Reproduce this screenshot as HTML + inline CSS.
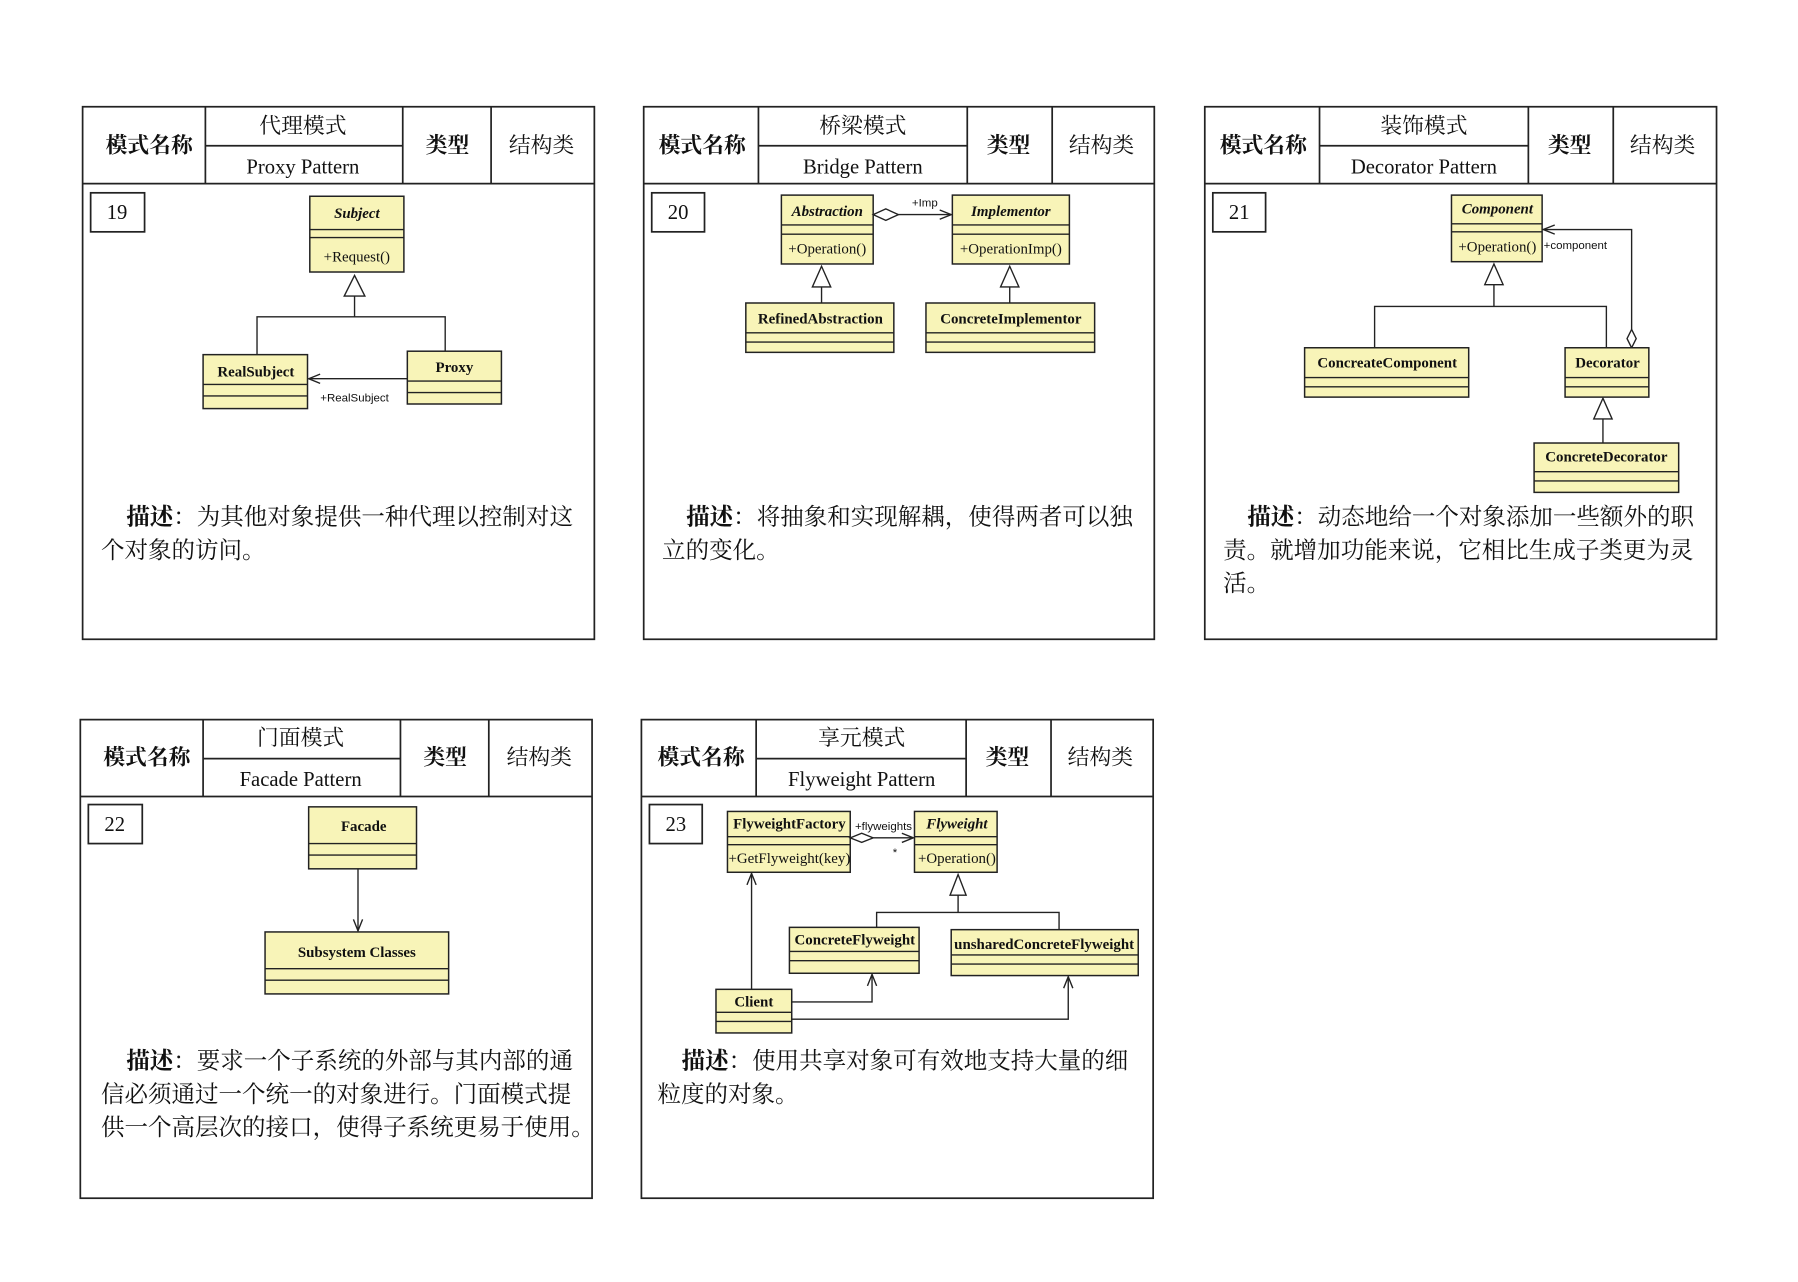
<!DOCTYPE html>
<html><head><meta charset="utf-8"><style>
html,body{margin:0;padding:0;background:#fff;}
svg{display:block;}
.h{font-family:"Liberation Serif","Noto Serif CJK SC",serif;fill:#111;}
.b{font-weight:bold;}
.c{font-family:"Liberation Serif",serif;font-weight:bold;font-size:13px;fill:#111;}
.o{font-family:"Liberation Serif",serif;font-size:13px;fill:#111;}
.s{font-family:"Liberation Sans",sans-serif;font-size:10px;fill:#111;}
.cls{fill:#f8f4b8;stroke:#222;stroke-width:1.3;}
.ln{stroke:#222;stroke-width:1.2;fill:none;}
.pn{fill:none;stroke:#222;stroke-width:1.5;}
.d{font-size:20.5px;}
</style></head><body>
<svg width="1798" height="1282" viewBox="0 0 1567 1117" preserveAspectRatio="none" xmlns="http://www.w3.org/2000/svg">
<defs>
<marker id="ar" markerWidth="12" markerHeight="10" refX="11" refY="5" orient="auto" markerUnits="userSpaceOnUse"><path d="M1,1 L11,5 L1,9" fill="none" stroke="#222" stroke-width="1.2"/></marker>
</defs>

<g id="p1">
<rect class="pn" x="72" y="93" width="446" height="464"/>
<line class="pn" x1="72" y1="160" x2="518" y2="160"/>
<line class="pn" x1="179" y1="93" x2="179" y2="160"/><line class="pn" x1="351" y1="93" x2="351" y2="160"/><line class="pn" x1="428" y1="93" x2="428" y2="160"/>
<line class="pn" x1="179" y1="127" x2="351" y2="127"/>
<text class="h b" x="130" y="133" font-size="19" text-anchor="middle">模式名称</text>
<text class="h" x="264" y="116" font-size="19" text-anchor="middle">代理模式</text>
<text class="h" x="264" y="151" font-size="18" text-anchor="middle">Proxy Pattern</text>
<text class="h b" x="390" y="133" font-size="19" text-anchor="middle">类型</text>
<text class="h" x="472" y="133" font-size="19" text-anchor="middle">结构类</text>
<rect class="pn" x="79" y="168" width="47" height="34" stroke-width="1.2"/>
<text class="h" x="102" y="191" font-size="18" text-anchor="middle">19</text>
<rect class="cls" x="270" y="171" width="82" height="66"/><line class="ln" x1="270" y1="200" x2="352" y2="200"/><line class="ln" x1="270" y1="207" x2="352" y2="207"/>
<text class="c" x="311" y="190" text-anchor="middle" font-style="italic">Subject</text>
<text class="o" x="311" y="228" text-anchor="middle">+Request()</text>
<path class="ln" d="M309,240 L300,258 L318,258 Z" fill="#fff"/>
<path class="ln" d="M309,258 V276 M224,309 V276 H388 V306"/>
<rect class="cls" x="177" y="309" width="91" height="47"/><line class="ln" x1="177" y1="335" x2="268" y2="335"/><line class="ln" x1="177" y1="345" x2="268" y2="345"/>
<text class="c" x="223" y="328" text-anchor="middle">RealSubject</text>
<rect class="cls" x="355" y="306" width="82" height="46"/><line class="ln" x1="355" y1="332" x2="437" y2="332"/><line class="ln" x1="355" y1="342" x2="437" y2="342"/>
<text class="c" x="396" y="324" text-anchor="middle">Proxy</text>
<line class="ln" x1="355" y1="330" x2="269" y2="330" marker-end="url(#ar)"/>
<text class="s" x="309" y="350" text-anchor="middle">+RealSubject</text>
<text class="h d" x="110" y="457"><tspan font-weight="bold">描述</tspan>：为其他对象提供一种代理以控制对这</text>
<text class="h d" x="88" y="486">个对象的访问。</text>
</g>

<g id="p2">
<rect class="pn" x="561" y="93" width="445" height="464"/>
<line class="pn" x1="561" y1="160" x2="1006" y2="160"/>
<line class="pn" x1="661" y1="93" x2="661" y2="160"/><line class="pn" x1="843" y1="93" x2="843" y2="160"/><line class="pn" x1="917" y1="93" x2="917" y2="160"/>
<line class="pn" x1="661" y1="127" x2="843" y2="127"/>
<text class="h b" x="612" y="133" font-size="19" text-anchor="middle">模式名称</text>
<text class="h" x="752" y="116" font-size="19" text-anchor="middle">桥梁模式</text>
<text class="h" x="752" y="151" font-size="18" text-anchor="middle">Bridge Pattern</text>
<text class="h b" x="879" y="133" font-size="19" text-anchor="middle">类型</text>
<text class="h" x="960" y="133" font-size="19" text-anchor="middle">结构类</text>
<rect class="pn" x="568" y="168" width="46" height="34" stroke-width="1.2"/>
<text class="h" x="591" y="191" font-size="18" text-anchor="middle">20</text>
<rect class="cls" x="681" y="170" width="80" height="60"/><line class="ln" x1="681" y1="196" x2="761" y2="196"/><line class="ln" x1="681" y1="204" x2="761" y2="204"/>
<text class="c" x="721" y="188" text-anchor="middle" font-style="italic">Abstraction</text>
<text class="o" x="721" y="221" text-anchor="middle">+Operation()</text>
<rect class="cls" x="830" y="170" width="102" height="60"/><line class="ln" x1="830" y1="196" x2="932" y2="196"/><line class="ln" x1="830" y1="204" x2="932" y2="204"/>
<text class="c" x="881" y="188" text-anchor="middle" font-style="italic">Implementor</text>
<text class="o" x="881" y="221" text-anchor="middle">+OperationImp()</text>
<path class="ln" d="M761,187 L772,182 L783,187 L772,192 Z" fill="#fff"/>
<line class="ln" x1="783" y1="187" x2="829" y2="187" marker-end="url(#ar)"/>
<text class="s" x="806" y="180" text-anchor="middle">+Imp</text>
<path class="ln" d="M716,232 L708,250 L724,250 Z" fill="#fff"/><line class="ln" x1="716" y1="250" x2="716" y2="264"/>
<path class="ln" d="M880,232 L872,250 L888,250 Z" fill="#fff"/><line class="ln" x1="880" y1="250" x2="880" y2="264"/>
<rect class="cls" x="650" y="264" width="129" height="43"/><line class="ln" x1="650" y1="290" x2="779" y2="290"/><line class="ln" x1="650" y1="298" x2="779" y2="298"/>
<text class="c" x="715" y="282" text-anchor="middle">RefinedAbstraction</text>
<rect class="cls" x="807" y="264" width="147" height="43"/><line class="ln" x1="807" y1="290" x2="954" y2="290"/><line class="ln" x1="807" y1="298" x2="954" y2="298"/>
<text class="c" x="881" y="282" text-anchor="middle">ConcreteImplementor</text>
<text class="h d" x="598" y="457"><tspan font-weight="bold">描述</tspan>：将抽象和实现解耦，使得两者可以独</text>
<text class="h d" x="577" y="486">立的变化。</text>
</g>

<g id="p3">
<rect class="pn" x="1050" y="93" width="446" height="464"/>
<line class="pn" x1="1050" y1="160" x2="1496" y2="160"/>
<line class="pn" x1="1150" y1="93" x2="1150" y2="160"/><line class="pn" x1="1332" y1="93" x2="1332" y2="160"/><line class="pn" x1="1406" y1="93" x2="1406" y2="160"/>
<line class="pn" x1="1150" y1="127" x2="1332" y2="127"/>
<text class="h b" x="1101" y="133" font-size="19" text-anchor="middle">模式名称</text>
<text class="h" x="1241" y="116" font-size="19" text-anchor="middle">装饰模式</text>
<text class="h" x="1241" y="151" font-size="18" text-anchor="middle">Decorator Pattern</text>
<text class="h b" x="1368" y="133" font-size="19" text-anchor="middle">类型</text>
<text class="h" x="1449" y="133" font-size="19" text-anchor="middle">结构类</text>
<rect class="pn" x="1057" y="168" width="46" height="34" stroke-width="1.2"/>
<text class="h" x="1080" y="191" font-size="18" text-anchor="middle">21</text>
<rect class="cls" x="1265" y="170" width="79" height="58"/><line class="ln" x1="1265" y1="195" x2="1344" y2="195"/><line class="ln" x1="1265" y1="202" x2="1344" y2="202"/>
<text class="c" x="1305" y="186" text-anchor="middle" font-style="italic" font-size="12">Component</text>
<text class="o" x="1305" y="219" text-anchor="middle" font-size="12">+Operation()</text>
<path class="ln" d="M1302,230 L1294,248 L1310,248 Z" fill="#fff"/>
<path class="ln" d="M1302,248 V267 M1198,303 V267 H1400 V303"/>
<path class="ln" d="M1422,303 L1418,295 L1422,287 L1426,295 Z" fill="#fff"/>
<path class="ln" d="M1422,287 V200 H1345" marker-end="url(#ar)"/>
<text class="s" x="1373" y="217" text-anchor="middle" font-size="9">+component</text>
<rect class="cls" x="1137" y="303" width="143" height="43"/><line class="ln" x1="1137" y1="329" x2="1280" y2="329"/><line class="ln" x1="1137" y1="337" x2="1280" y2="337"/>
<text class="c" x="1209" y="320" text-anchor="middle">ConcreateComponent</text>
<rect class="cls" x="1364" y="303" width="73" height="43"/><line class="ln" x1="1364" y1="329" x2="1437" y2="329"/><line class="ln" x1="1364" y1="337" x2="1437" y2="337"/>
<text class="c" x="1401" y="320" text-anchor="middle">Decorator</text>
<path class="ln" d="M1397,347 L1389,365 L1405,365 Z" fill="#fff"/><line class="ln" x1="1397" y1="365" x2="1397" y2="386"/>
<rect class="cls" x="1337" y="386" width="126" height="43"/><line class="ln" x1="1337" y1="411" x2="1463" y2="411"/><line class="ln" x1="1337" y1="419" x2="1463" y2="419"/>
<text class="c" x="1400" y="402" text-anchor="middle">ConcreteDecorator</text>
<text class="h d" x="1087" y="457"><tspan font-weight="bold">描述</tspan>：动态地给一个对象添加一些额外的职</text>
<text class="h d" x="1066" y="486">责。就增加功能来说，它相比生成子类更为灵</text>
<text class="h d" x="1066" y="515">活。</text>
</g>

<g id="p4">
<rect class="pn" x="70" y="627" width="446" height="417"/>
<line class="pn" x1="70" y1="694" x2="516" y2="694"/>
<line class="pn" x1="177" y1="627" x2="177" y2="694"/><line class="pn" x1="349" y1="627" x2="349" y2="694"/><line class="pn" x1="426" y1="627" x2="426" y2="694"/>
<line class="pn" x1="177" y1="661" x2="349" y2="661"/>
<text class="h b" x="128" y="666" font-size="19" text-anchor="middle">模式名称</text>
<text class="h" x="262" y="649" font-size="19" text-anchor="middle">门面模式</text>
<text class="h" x="262" y="685" font-size="18" text-anchor="middle">Facade Pattern</text>
<text class="h b" x="388" y="666" font-size="19" text-anchor="middle">类型</text>
<text class="h" x="470" y="666" font-size="19" text-anchor="middle">结构类</text>
<rect class="pn" x="77" y="701" width="47" height="34" stroke-width="1.2"/>
<text class="h" x="100" y="724" font-size="18" text-anchor="middle">22</text>
<rect class="cls" x="269" y="703" width="94" height="54"/><line class="ln" x1="269" y1="735" x2="363" y2="735"/><line class="ln" x1="269" y1="745" x2="363" y2="745"/>
<text class="c" x="317" y="724" text-anchor="middle" font-size="16">Facade</text>
<line class="ln" x1="312" y1="757" x2="312" y2="811" marker-end="url(#ar)"/>
<rect class="cls" x="231" y="812" width="160" height="54"/><line class="ln" x1="231" y1="844" x2="391" y2="844"/><line class="ln" x1="231" y1="854" x2="391" y2="854"/>
<text class="c" x="311" y="834" text-anchor="middle" font-size="16">Subsystem Classes</text>
<text class="h d" x="110" y="931"><tspan font-weight="bold">描述</tspan>：要求一个子系统的外部与其内部的通</text>
<text class="h d" x="88" y="960">信必须通过一个统一的对象进行。门面模式提</text>
<text class="h d" x="88" y="989">供一个高层次的接口，使得子系统更易于使用。</text>
</g>

<g id="p5">
<rect class="pn" x="559" y="627" width="446" height="417"/>
<line class="pn" x1="559" y1="694" x2="1005" y2="694"/>
<line class="pn" x1="659" y1="627" x2="659" y2="694"/><line class="pn" x1="842" y1="627" x2="842" y2="694"/><line class="pn" x1="916" y1="627" x2="916" y2="694"/>
<line class="pn" x1="659" y1="661" x2="842" y2="661"/>
<text class="h b" x="611" y="666" font-size="19" text-anchor="middle">模式名称</text>
<text class="h" x="751" y="649" font-size="19" text-anchor="middle">享元模式</text>
<text class="h" x="751" y="685" font-size="18" text-anchor="middle">Flyweight Pattern</text>
<text class="h b" x="878" y="666" font-size="19" text-anchor="middle">类型</text>
<text class="h" x="959" y="666" font-size="19" text-anchor="middle">结构类</text>
<rect class="pn" x="566" y="701" width="46" height="34" stroke-width="1.2"/>
<text class="h" x="589" y="724" font-size="18" text-anchor="middle">23</text>
<rect class="cls" x="634" y="707" width="107" height="53"/><line class="ln" x1="634" y1="729" x2="741" y2="729"/><line class="ln" x1="634" y1="736" x2="741" y2="736"/>
<text class="c" x="688" y="722" text-anchor="middle" font-size="11.5">FlyweightFactory</text>
<text class="o" x="688" y="752" text-anchor="middle" font-size="11.5">+GetFlyweight(key)</text>
<rect class="cls" x="797" y="707" width="72" height="53"/><line class="ln" x1="797" y1="729" x2="869" y2="729"/><line class="ln" x1="797" y1="736" x2="869" y2="736"/>
<text class="c" x="834" y="722" text-anchor="middle" font-size="11.5" font-style="italic">Flyweight</text>
<text class="o" x="834" y="752" text-anchor="middle" font-size="11.5">+Operation()</text>
<path class="ln" d="M741,730 L751,726 L761,730 L751,734 Z" fill="#fff"/>
<line class="ln" x1="761" y1="730" x2="796" y2="730" marker-end="url(#ar)"/>
<text class="s" x="770" y="723" text-anchor="middle" font-size="9">+flyweights</text>
<text class="s" x="780" y="746" text-anchor="middle">*</text>
<path class="ln" d="M835,762 L828,780 L842,780 Z" fill="#fff"/>
<path class="ln" d="M835,780 V795 M764,808 V795 H923 V810"/>
<rect class="cls" x="688" y="808" width="113" height="40"/><line class="ln" x1="688" y1="829" x2="801" y2="829"/><line class="ln" x1="688" y1="837" x2="801" y2="837"/>
<text class="c" x="745" y="823" text-anchor="middle" font-size="11.5">ConcreteFlyweight</text>
<rect class="cls" x="829" y="810" width="163" height="40"/><line class="ln" x1="829" y1="832" x2="992" y2="832"/><line class="ln" x1="829" y1="840" x2="992" y2="840"/>
<text class="c" x="910" y="827" text-anchor="middle" font-size="11.5">unsharedConcreteFlyweight</text>
<rect class="cls" x="624" y="862" width="66" height="38"/><line class="ln" x1="624" y1="882" x2="690" y2="882"/><line class="ln" x1="624" y1="890" x2="690" y2="890"/>
<text class="c" x="657" y="877" text-anchor="middle" font-size="11.5">Client</text>
<line class="ln" x1="655" y1="862" x2="655" y2="761" marker-end="url(#ar)"/>
<path class="ln" d="M690,873 H760 V849" marker-end="url(#ar)"/>
<path class="ln" d="M690,888 H931 V851" marker-end="url(#ar)"/>
<text class="h d" x="594" y="931"><tspan font-weight="bold">描述</tspan>：使用共享对象可有效地支持大量的细</text>
<text class="h d" x="573" y="960">粒度的对象。</text>
</g>
</svg>
</body></html>
